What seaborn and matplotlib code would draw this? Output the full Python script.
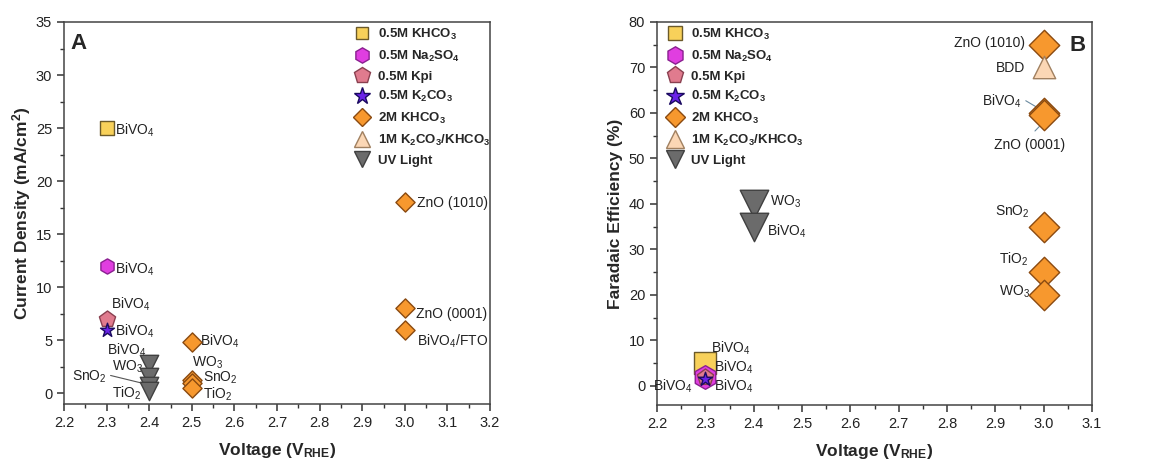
import matplotlib
matplotlib.use("Agg")
import matplotlib.pyplot as plt
import seaborn as sns
import pandas as pd
from matplotlib.lines import Line2D
from matplotlib.ticker import MultipleLocator, FormatStrFormatter

sns.set_theme(style="ticks")
plt.rcParams["font.family"] = ["Liberation Sans", "DejaVu Sans"]
plt.rcParams["mathtext.fontset"] = "custom"
plt.rcParams["mathtext.rm"] = "Liberation Sans"
plt.rcParams["mathtext.default"] = "regular"

# ---- electrolytes (legend order) ----
electrolytes = ["0.5M KHCO$_3$", "0.5M Na$_2$SO$_4$", "0.5M Kpi", "0.5M K$_2$CO$_3$",
                "2M KHCO$_3$", "1M K$_2$CO$_3$/KHCO$_3$", "UV Light"]

# ---- panel A: current density (mA/cm2) vs voltage (V_RHE) ----
a_khco3_v, a_khco3_j = [2.3], [25.0]
a_na2so4_v, a_na2so4_j = [2.3], [12.0]
a_kpi_v, a_kpi_j = [2.3], [7.0]
a_k2co3_v, a_k2co3_j = [2.3], [6.0]
a_2m_v = [2.5, 2.5, 2.5, 2.5, 3.0, 3.0, 3.0]
a_2m_j = [4.8, 1.3, 1.0, 0.5, 18.0, 8.0, 6.0]
a_1m_v, a_1m_j = [], []
a_uv_v = [2.4, 2.4, 2.4, 2.4]
a_uv_j = [2.8, 1.5, 0.7, 0.2]

a_khco3_lab = ["BiVO$_4$"]
a_na2so4_lab = ["BiVO$_4$"]
a_kpi_lab = ["BiVO$_4$"]
a_k2co3_lab = ["BiVO$_4$"]
a_2m_lab = ["BiVO$_4$", "WO$_3$", "SnO$_2$", "TiO$_2$", "ZnO (1010)", "ZnO (0001)", "BiVO$_4$/FTO"]
a_uv_lab = ["BiVO$_4$", "WO$_3$", "SnO$_2$", "TiO$_2$"]

# ---- panel B: faradaic efficiency (%) vs voltage (V_RHE) ----
b_khco3_v, b_khco3_fe = [2.3], [5.0]
b_na2so4_v, b_na2so4_fe = [2.3], [2.0]
b_kpi_v, b_kpi_fe = [2.3], [2.0]
b_k2co3_v, b_k2co3_fe = [2.3], [1.5]
b_2m_v = [3.0, 3.0, 3.0, 3.0, 3.0, 3.0]
b_2m_fe = [75.0, 60.0, 59.5, 35.0, 25.0, 20.0]
b_1m_v, b_1m_fe = [3.0], [70.0]
b_uv_v = [2.4, 2.4]
b_uv_fe = [40.0, 35.0]

b_khco3_lab = ["BiVO$_4$"]
b_na2so4_lab = ["BiVO$_4$"]
b_kpi_lab = ["BiVO$_4$"]
b_k2co3_lab = ["BiVO$_4$"]
b_2m_lab = ["ZnO (1010)", "BiVO$_4$", "ZnO (0001)", "SnO$_2$", "TiO$_2$", "WO$_3$"]
b_1m_lab = ["BDD"]
b_uv_lab = ["WO$_3$", "BiVO$_4$"]

# ---- marker styling per electrolyte ----
markers = ["s", "h", "p", "*", "D", "^", "v"]
fills = ["#F8D15A", "#E03EE0", "#E07B8E", "#6A22E8", "#F7982E", "#FBD7B5", "#6B6B6B"]
edges = ["#6B5A2A", "#8A2090", "#8A4050", "#1A0A60", "#8A4A10", "#A08060", "#404040"]
sizes_a = [95, 120, 150, 110, 95, 170, 175]
sizes_b = [240, 290, 150, 110, 240, 260, 420]
legend_ms_a = [9.0, 11.0, 12.0, 12.5, 9.0, 12.0, 12.0]
legend_ms_b = [9.5, 12.5, 12.5, 13.5, 10.0, 13.5, 13.0]


def frame(v, y, lab, name):
    return pd.DataFrame({"voltage": v, "value": y, "label": lab, "electrolyte": name})


df_a = pd.concat([
    frame(a_khco3_v, a_khco3_j, a_khco3_lab, electrolytes[0]),
    frame(a_na2so4_v, a_na2so4_j, a_na2so4_lab, electrolytes[1]),
    frame(a_kpi_v, a_kpi_j, a_kpi_lab, electrolytes[2]),
    frame(a_k2co3_v, a_k2co3_j, a_k2co3_lab, electrolytes[3]),
    frame(a_2m_v, a_2m_j, a_2m_lab, electrolytes[4]),
    frame(a_1m_v, a_1m_j, [], electrolytes[5]),
    frame(a_uv_v, a_uv_j, a_uv_lab, electrolytes[6]),
], ignore_index=True)

df_b = pd.concat([
    frame(b_khco3_v, b_khco3_fe, b_khco3_lab, electrolytes[0]),
    frame(b_na2so4_v, b_na2so4_fe, b_na2so4_lab, electrolytes[1]),
    frame(b_kpi_v, b_kpi_fe, b_kpi_lab, electrolytes[2]),
    frame(b_k2co3_v, b_k2co3_fe, b_k2co3_lab, electrolytes[3]),
    frame(b_2m_v, b_2m_fe, b_2m_lab, electrolytes[4]),
    frame(b_1m_v, b_1m_fe, b_1m_lab, electrolytes[5]),
    frame(b_uv_v, b_uv_fe, b_uv_lab, electrolytes[6]),
], ignore_index=True)

fig = plt.figure(figsize=(11.49, 4.65), dpi=100)
ax_a = fig.add_axes([0.0557, 0.1312, 0.3708, 0.8215])
ax_b = fig.add_axes([0.5718, 0.1290, 0.3786, 0.8237])


def draw_points(ax, df, sizes):
    for i, name in enumerate(electrolytes):
        sub = df[df["electrolyte"] == name]
        if sub.empty:
            continue
        sns.scatterplot(data=sub, x="voltage", y="value", ax=ax, marker=markers[i],
                        s=sizes[i], color=fills[i], edgecolor=edges[i], linewidth=1.0,
                        legend=False, zorder=3 + i * 0.1)


def add_legend(ax, ms, anchor):
    handles = [Line2D([], [], linestyle="none", marker=markers[i], markersize=ms[i],
                      markerfacecolor=fills[i], markeredgecolor=edges[i],
                      markeredgewidth=1.0, label=electrolytes[i])
               for i in range(len(electrolytes))]
    ax.legend(handles=handles, frameon=False, prop={"weight": "bold", "size": 9.5},
              handletextpad=0.5, labelspacing=0.5, borderaxespad=0.0, borderpad=0.0,
              handlelength=1.4, loc="upper left", bbox_to_anchor=anchor)


def style_axes(ax, xlim, ylim, xmaj, ymaj, ylabel, ypad):
    ax.set_xlim(*xlim)
    ax.set_ylim(*ylim)
    ax.xaxis.set_major_locator(MultipleLocator(xmaj))
    ax.xaxis.set_minor_locator(MultipleLocator(xmaj / 2))
    ax.yaxis.set_major_locator(MultipleLocator(ymaj))
    ax.yaxis.set_minor_locator(MultipleLocator(ymaj / 2))
    ax.xaxis.set_major_formatter(FormatStrFormatter("%.1f"))
    ax.tick_params(which="major", direction="out", length=5, width=1.1, colors="#333333",
                   labelsize=10.5, labelcolor="#222222")
    ax.tick_params(which="minor", direction="out", length=3, width=1.0, colors="#333333")
    for sp in ax.spines.values():
        sp.set_visible(True)
        sp.set_color("#444444")
        sp.set_linewidth(1.1)
    ax.set_xlabel("Voltage (V$_{RHE}$)", fontsize=12.5, fontweight="bold", labelpad=8)
    ax.set_ylabel(ylabel, fontsize=12.5, fontweight="bold", labelpad=ypad)


draw_points(ax_a, df_a, sizes_a)
draw_points(ax_b, df_b, sizes_b)

style_axes(ax_a, (2.2, 3.2), (-1.0, 35.0), 0.1, 5, "Current Density (mA/cm$^2$)", 2)
style_axes(ax_b, (2.2, 3.1), (-4.2, 80.0), 0.1, 10, "Faradaic Efficiency (%)", 4)

add_legend(ax_a, legend_ms_a, (0.677, 0.987))
add_legend(ax_b, legend_ms_b, (0.021, 0.987))

lab_kw = dict(fontsize=10, color="#222222", va="center")

# ---- point labels, panel A ----
a_text = [
    (2.32, 24.8, "left"), (2.32, 11.7, "left"), (2.31, 8.4, "left"), (2.32, 5.85, "left"),
    (2.52, 4.9, "left"), (2.50, 2.9, "left"), (2.526, 1.5, "left"), (2.526, -0.05, "left"),
    (3.028, 17.9, "left"), (3.026, 7.45, "left"), (3.028, 4.9, "left"),
    (2.394, 4.05, "right"), (2.386, 2.5, "right"), (2.30, 1.55, "right"), (2.382, 0.0, "right"),
]
for (tx, ty, ha), lab in zip(a_text, list(df_a["label"])):
    ax_a.text(tx, ty, lab, ha=ha, **lab_kw)
ax_a.annotate("", xy=(a_uv_v[2], a_uv_j[2] + 0.1), xytext=(2.303, 1.75),
              arrowprops=dict(arrowstyle="-", color="#555555", lw=0.8))
ax_a.text(0.015, 0.97, "A", transform=ax_a.transAxes, fontsize=16, fontweight="bold",
          va="top", ha="left")

# ---- point labels, panel B ----
b_text = [
    (2.3125, 8.3, "left"), (2.317, 4.0, "left"), (2.317, -0.1, "left"), (2.273, -0.1, "right"),
    (2.962, 75.4, "right"), (2.955, 62.6, "right"), (2.97, 53.0, "center"),
    (2.972, 38.2, "right"), (2.968, 27.9, "right"), (2.972, 20.6, "right"),
    (2.962, 69.9, "right"),
    (2.434, 40.5, "left"), (2.427, 33.9, "left"),
]
for (tx, ty, ha), lab in zip(b_text, list(df_b["label"])):
    ax_b.text(tx, ty, lab, ha=ha, **lab_kw)
ax_b.annotate("", xy=(2.998, 60.5), xytext=(2.958, 63.0),
              arrowprops=dict(arrowstyle="-", color="#6a8aa0", lw=0.8))
ax_b.annotate("", xy=(2.998, 57.8), xytext=(2.978, 55.6),
              arrowprops=dict(arrowstyle="-", color="#6a8aa0", lw=0.8))
ax_b.text(0.985, 0.965, "B", transform=ax_b.transAxes, fontsize=16, fontweight="bold",
          va="top", ha="right")

fig.savefig("out.png", dpi=100)
